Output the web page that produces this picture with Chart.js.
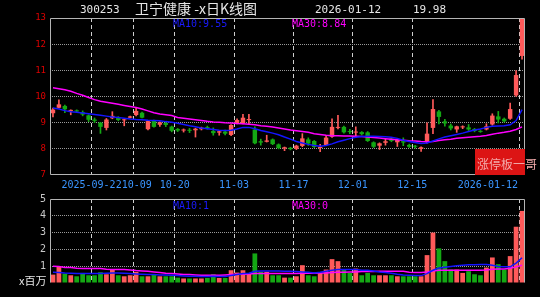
<!DOCTYPE html>
<html>
<head>
<meta charset="utf-8">
<title>300253 卫宁健康 日K线图</title>
<script src="https://cdn.jsdelivr.net/npm/chart.js@4.4.1/dist/chart.umd.min.js"></script>
<style>
    html, body { margin: 0; padding: 0; background: #000; }
    #wrap { position: relative; width: 540px; height: 297px; overflow: hidden; background: #000; }
    #wrap canvas { position: absolute; left: 0; top: 0; }
    .txt { position: absolute; white-space: nowrap; line-height: 1; }
    .mono { font-family: "DejaVu Sans Mono", monospace; }
    .cjk { font-family: "Noto Sans CJK SC", sans-serif; }
    #badge { position: absolute; left: 475px; top: 149px; width: 50px; height: 26px; background: #dc1414; }
</style>
</head>
<body>
<div id="wrap">
    <canvas id="kChart" width="540" height="297"></canvas>
    <canvas id="volChart" width="540" height="297"></canvas>

    <span class="txt mono" style="left:80px;top:4px;font-size:11px;color:#e6e6e6;">300253</span>
    <span class="txt cjk" style="left:135px;top:1px;font-size:14px;color:#e6e6e6;">卫宁健康 -x日K线图</span>
    <span class="txt mono" style="left:315px;top:4px;font-size:11px;color:#e6e6e6;">2026-01-12</span>
    <span class="txt mono" style="left:413px;top:4px;font-size:11px;color:#e6e6e6;">19.98</span>

    <span class="txt mono" style="left:173px;top:19px;font-size:10px;color:#1a1aff;">MA10:9.55</span>
    <span class="txt mono" style="left:292px;top:19px;font-size:10px;color:#ff00ff;">MA30:8.84</span>
    <span class="txt mono" style="left:173px;top:201px;font-size:10px;color:#1a1aff;">MA10:1</span>
    <span class="txt mono" style="left:292px;top:201px;font-size:10px;color:#ff00ff;">MA30:0</span>

    <span class="txt cjk" style="left:19px;top:275px;font-size:11px;color:#e6e6e6;">x百万</span>

    <div id="badge"></div>
    <span class="txt cjk" style="left:477px;top:158px;font-size:12px;color:#f2aaaa;">涨停板一哥</span>
</div>

<script>
// trading days shown on the chart
const dates = [
    '2025-09-11', '2025-09-12', '2025-09-15', '2025-09-16', '2025-09-17', '2025-09-18', '2025-09-19',
    '2025-09-22', '2025-09-23', '2025-09-24', '2025-09-25', '2025-09-26', '2025-09-29', '2025-09-30',
    '2025-10-09', '2025-10-10', '2025-10-13', '2025-10-14', '2025-10-15', '2025-10-16', '2025-10-17',
    '2025-10-20', '2025-10-21', '2025-10-22', '2025-10-23', '2025-10-24', '2025-10-27', '2025-10-28',
    '2025-10-29', '2025-10-30', '2025-10-31',
    '2025-11-03', '2025-11-04', '2025-11-05', '2025-11-06', '2025-11-07', '2025-11-10', '2025-11-11',
    '2025-11-12', '2025-11-13', '2025-11-14',
    '2025-11-17', '2025-11-18', '2025-11-19', '2025-11-20', '2025-11-21', '2025-11-24', '2025-11-25',
    '2025-11-26', '2025-11-27', '2025-11-28',
    '2025-12-01', '2025-12-02', '2025-12-03', '2025-12-04', '2025-12-05', '2025-12-08', '2025-12-09',
    '2025-12-10', '2025-12-11', '2025-12-12',
    '2025-12-15', '2025-12-16', '2025-12-17', '2025-12-18', '2025-12-19', '2025-12-22', '2025-12-23',
    '2025-12-24', '2025-12-25', '2025-12-26', '2025-12-29', '2025-12-30', '2025-12-31',
    '2026-01-05', '2026-01-06', '2026-01-07', '2026-01-08', '2026-01-09', '2026-01-12'
];

const opens = [
    9.36, 9.57, 9.64, 9.45, 9.47, 9.40, 9.28, 9.12, 9.00, 8.80,
    9.17, 9.21, 9.09, 9.19, 9.29, 9.38, 8.75, 9.09, 8.92, 8.99,
    8.85, 8.76, 8.70, 8.72, 8.71, 8.75, 8.83, 8.68, 8.62, 8.66,
    8.53, 8.98, 8.97, 9.10, 8.74, 8.29, 8.27, 8.36, 8.17, 8.01,
    8.04, 8.00, 8.11, 8.36, 8.30, 8.03, 8.15, 8.46, 8.80, 8.84,
    8.67, 8.62, 8.64, 8.63, 8.25, 8.12, 8.23, 8.39, 8.25, 8.29,
    8.15, 8.11, 8.00, 8.25, 8.80, 9.43, 9.05, 8.89, 8.74, 8.82,
    8.82, 8.76, 8.68, 8.74, 8.93, 9.24, 9.15, 9.15, 10.04, 11.55
];
const highs = [
    9.56, 9.87, 9.67, 9.49, 9.49, 9.45, 9.30, 9.18, 9.01, 9.16,
    9.42, 9.23, 9.13, 9.25, 9.55, 9.40, 9.08, 9.10, 9.03, 9.03,
    8.87, 8.78, 8.76, 8.78, 8.79, 8.83, 8.87, 8.80, 8.69, 8.72,
    8.93, 9.15, 9.32, 9.32, 8.84, 8.37, 8.52, 8.38, 8.19, 8.07,
    8.06, 8.14, 8.58, 8.42, 8.32, 8.17, 8.52, 9.15, 9.28, 8.87,
    8.75, 8.84, 8.66, 8.66, 8.27, 8.23, 8.38, 8.43, 8.37, 8.42,
    8.18, 8.13, 8.08, 8.99, 9.88, 9.47, 9.13, 8.95, 8.87, 8.88,
    8.93, 8.78, 8.70, 8.96, 9.34, 9.43, 9.18, 9.75, 10.99, 12.98
];
const lows = [
    9.22, 9.55, 9.38, 9.30, 9.40, 9.26, 9.04, 9.00, 8.59, 8.72,
    9.15, 9.07, 8.88, 9.18, 9.26, 9.18, 8.72, 8.83, 8.86, 8.85,
    8.65, 8.66, 8.64, 8.62, 8.45, 8.72, 8.75, 8.52, 8.52, 8.53,
    8.50, 8.95, 8.95, 8.94, 8.19, 8.14, 8.26, 8.16, 8.00, 7.93,
    7.96, 7.97, 8.08, 8.13, 8.05, 7.89, 8.12, 8.44, 8.76, 8.60,
    8.58, 8.45, 8.53, 8.28, 8.05, 7.97, 8.14, 8.27, 8.09, 8.12,
    8.05, 8.03, 7.90, 8.22, 8.58, 8.95, 8.87, 8.72, 8.63, 8.77,
    8.70, 8.65, 8.63, 8.72, 8.90, 8.99, 9.02, 9.12, 10.00, 11.43
];
const closes = [
    9.50, 9.70, 9.51, 9.48, 9.43, 9.31, 9.11, 9.07, 8.84, 9.12,
    9.26, 9.10, 9.11, 9.24, 9.45, 9.19, 9.06, 8.84, 9.01, 8.91,
    8.69, 8.70, 8.73, 8.69, 8.77, 8.81, 8.78, 8.60, 8.67, 8.58,
    8.91, 9.10, 9.19, 9.13, 8.21, 8.24, 8.32, 8.18, 8.03, 8.06,
    7.99, 8.12, 8.40, 8.20, 8.07, 8.06, 8.43, 8.84, 8.82, 8.63,
    8.64, 8.66, 8.56, 8.30, 8.08, 8.21, 8.29, 8.30, 8.35, 8.24,
    8.08, 8.08, 8.06, 8.58, 9.52, 9.22, 8.97, 8.78, 8.86, 8.85,
    8.74, 8.68, 8.65, 8.86, 9.27, 9.12, 9.05, 9.52, 10.82, 12.98
];

// moving averages as drawn on the price panel
const ma10 = [
    9.56, 9.52, 9.46, 9.42, 9.40, 9.37, 9.34, 9.31, 9.28, 9.25,
    9.22, 9.20, 9.17, 9.14, 9.12, 9.11, 9.09, 9.08, 9.07, 9.04,
    9.02, 8.98, 8.93, 8.88, 8.84, 8.80, 8.77, 8.74, 8.71, 8.70,
    8.71, 8.76, 8.82, 8.82, 8.77, 8.70, 8.65, 8.60, 8.54, 8.45,
    8.37, 8.28, 8.22, 8.17, 8.13, 8.10, 8.13, 8.19, 8.27, 8.33,
    8.39, 8.44, 8.47, 8.48, 8.48, 8.47, 8.46, 8.44, 8.40, 8.33,
    8.28, 8.24, 8.20, 8.22, 8.30, 8.38, 8.45, 8.50, 8.55, 8.60,
    8.66, 8.72, 8.76, 8.82, 8.86, 8.87, 8.88, 8.92, 9.08, 9.50
];
const ma30 = [
    10.33, 10.30, 10.26, 10.20, 10.12, 10.05, 9.96, 9.88, 9.82, 9.78,
    9.74, 9.70, 9.66, 9.62, 9.58, 9.52, 9.45, 9.38, 9.33, 9.30,
    9.27, 9.20, 9.17, 9.14, 9.11, 9.08, 9.05, 9.03, 9.02, 9.00,
    8.99, 8.97, 8.96, 8.94, 8.92, 8.88, 8.86, 8.83, 8.80, 8.76,
    8.72, 8.69, 8.66, 8.63, 8.58, 8.55, 8.52, 8.50, 8.50, 8.49,
    8.49, 8.48, 8.47, 8.45, 8.43, 8.41, 8.39, 8.37, 8.35, 8.33,
    8.31, 8.30, 8.28, 8.27, 8.28, 8.32, 8.35, 8.37, 8.40, 8.42,
    8.44, 8.46, 8.48, 8.51, 8.56, 8.60, 8.63, 8.67, 8.74, 8.84
];

// volume, millions of shares
const volumes = [
    0.50, 1.00, 0.56, 0.46, 0.40, 0.60, 0.46, 0.46, 0.64, 0.52,
    0.78, 0.46, 0.40, 0.46, 0.66, 0.40, 0.40, 0.50, 0.40, 0.40,
    0.40, 0.32, 0.27, 0.27, 0.27, 0.27, 0.30, 0.52, 0.30, 0.30,
    0.76, 0.62, 0.76, 0.56, 1.76, 0.66, 0.66, 0.46, 0.46, 0.32,
    0.32, 0.40, 1.06, 0.46, 0.40, 0.60, 0.80, 1.42, 1.30, 0.80,
    0.60, 0.86, 0.46, 0.60, 0.46, 0.46, 0.46, 0.46, 0.40, 0.40,
    0.40, 0.40, 0.40, 1.66, 3.00, 2.06, 1.30, 0.80, 0.80, 0.60,
    0.70, 0.52, 0.46, 0.92, 1.52, 1.12, 0.80, 1.60, 3.35, 4.29
];
const volMa10 = [
    0.64, 0.63, 0.60, 0.58, 0.56, 0.56, 0.56, 0.56, 0.56, 0.58,
    0.60, 0.60, 0.58, 0.56, 0.54, 0.52, 0.50, 0.50, 0.48, 0.48,
    0.46, 0.44, 0.42, 0.40, 0.40, 0.38, 0.38, 0.40, 0.38, 0.38,
    0.44, 0.50, 0.56, 0.58, 0.70, 0.72, 0.72, 0.72, 0.72, 0.70,
    0.70, 0.68, 0.66, 0.64, 0.60, 0.64, 0.70, 0.76, 0.80, 0.80,
    0.80, 0.80, 0.76, 0.76, 0.72, 0.66, 0.62, 0.58, 0.52, 0.48,
    0.46, 0.44, 0.44, 0.56, 0.76, 0.90, 0.94, 0.98, 1.02, 1.06,
    1.08, 1.08, 1.10, 1.10, 1.06, 0.98, 0.96, 0.96, 1.18, 1.50
];
const volMa30 = [
    1.00, 0.98, 0.92, 0.92, 0.88, 0.86, 0.86, 0.86, 0.86, 0.82,
    0.80, 0.80, 0.80, 0.78, 0.74, 0.72, 0.70, 0.66, 0.62, 0.58,
    0.56, 0.54, 0.50, 0.50, 0.48, 0.46, 0.46, 0.46, 0.46, 0.48,
    0.50, 0.52, 0.52, 0.54, 0.56, 0.56, 0.56, 0.56, 0.56, 0.56,
    0.56, 0.56, 0.58, 0.58, 0.58, 0.60, 0.60, 0.62, 0.64, 0.64,
    0.66, 0.66, 0.68, 0.68, 0.68, 0.70, 0.70, 0.70, 0.70, 0.70,
    0.64, 0.62, 0.62, 0.66, 0.72, 0.76, 0.76, 0.76, 0.76, 0.76,
    0.76, 0.76, 0.76, 0.78, 0.82, 0.84, 0.84, 0.88, 0.96, 1.06
];

// date axis labels
const tickDates = ['2025-09-22', '2025-10-09', '2025-10-20', '2025-11-03', '2025-11-17', '2025-12-01', '2025-12-15', '2026-01-12'];
const tickLabels = ['2025-09-22', '10-09', '10-20', '11-03', '11-17', '12-01', '12-15', '2026-01-12'];

document.addEventListener('DOMContentLoaded', () => {
    const UP = '#ff5a5a';
    const DOWN = '#14a814';
    const candleColors = closes.map((c, i) => (c >= opens[i] ? UP : DOWN));
    const markIdx = tickDates.map(d => dates.indexOf(d));

    // frame around the plot area (solid grey)
    const framePlugin = {
        id: 'frame',
        afterDatasetsDraw(chart, args, opts) {
            const { ctx, chartArea: a } = chart;
            const l = Math.round(a.left) + 0.5, r = Math.round(a.right) - 0.5;
            const t = Math.round(a.top) + 0.5, b = Math.round(a.bottom) - 0.5;
            ctx.save();
            ctx.strokeStyle = '#b4b4b4';
            ctx.lineWidth = 1;
            ctx.beginPath();
            ctx.moveTo(l, b); ctx.lineTo(l, t); ctx.lineTo(r, t); ctx.lineTo(r, b);
            if (opts.bottom) ctx.lineTo(l, b);
            ctx.stroke();
            ctx.restore();
        }
    };

    // date labels under the price panel, centred on the dashed lines
    const dateLabels = {
        id: 'dateLabels',
        afterDraw(chart) {
            const xs = chart.scales.x;
            const ctx = chart.ctx;
            const half = (xs.getPixelForValue(1) - xs.getPixelForValue(0)) / 2;
            ctx.save();
            ctx.font = '10px "DejaVu Sans Mono"';
            ctx.fillStyle = '#3a95ff';
            ctx.textBaseline = 'middle';
            let prevRight = 0;
            markIdx.forEach((idx, k) => {
                const w = ctx.measureText(tickLabels[k]).width;
                let left = xs.getPixelForValue(idx) - half - w / 2;
                if (left < prevRight) left = prevRight;
                if (left + w > chart.chartArea.right - 7) left = chart.chartArea.right - 7 - w;
                ctx.fillText(tickLabels[k], left, 185);
                prevRight = left + w;
            });
            ctx.restore();
        }
    };

    const xGrid = {
        offset: true,
        ticks: { display: false, autoSkip: false },
        grid: {
            offset: true,
            drawTicks: false,
            color: ctx => (markIdx.includes(ctx.index) ? '#cfcfcf' : 'transparent')
        },
        border: { display: false, dash: [4, 3] },
        afterFit: s => { s.height = 0; }
    };

    // price panel: candles are a wick bar and a body bar on the same category
    new Chart(document.getElementById('kChart'), {
        type: 'bar',
        data: {
            labels: dates,
            datasets: [
                {
                    label: 'wick',
                    data: lows.map((l, i) => [l, highs[i]]),
                    backgroundColor: candleColors,
                    barThickness: 1,
                    grouped: false,
                    order: 3
                },
                {
                    label: 'body',
                    data: opens.map((o, i) => [o, closes[i]]),
                    backgroundColor: candleColors,
                    barPercentage: 0.75,
                    categoryPercentage: 1,
                    minBarLength: 1,
                    grouped: false,
                    order: 2
                },
                { type: 'line', label: 'MA10', data: ma10, borderColor: '#1414ff', borderWidth: 1.5, pointRadius: 0, order: 1 },
                { type: 'line', label: 'MA30', data: ma30, borderColor: '#ff00ff', borderWidth: 1.5, pointRadius: 0, order: 1 }
            ]
        },
        options: {
            responsive: false,
            animation: false,
            devicePixelRatio: 1,
            layout: { padding: { left: 0, right: 15, top: 18, bottom: 122 } },
            plugins: { legend: { display: false }, tooltip: { enabled: false }, frame: { bottom: true } },
            scales: {
                x: xGrid,
                y: {
                    min: 7,
                    max: 13,
                    ticks: { stepSize: 1, color: '#dd0000', padding: 4, font: { family: 'DejaVu Sans Mono', size: 9 } },
                    grid: {
                        drawTicks: false,
                        color: ctx => (ctx.tick && ctx.tick.value > 7 && ctx.tick.value < 13 ? '#9a9a9a' : 'transparent')
                    },
                    border: { display: false, dash: [1, 1] },
                    afterFit: s => { s.width = 50; }
                }
            }
        },
        plugins: [framePlugin, dateLabels]
    });

    // volume panel
    new Chart(document.getElementById('volChart'), {
        type: 'bar',
        data: {
            labels: dates,
            datasets: [
                {
                    label: 'VOL',
                    data: volumes,
                    backgroundColor: candleColors,
                    barPercentage: 0.8,
                    categoryPercentage: 1,
                    order: 2
                },
                { type: 'line', label: 'MA10', data: volMa10, borderColor: '#1414ff', borderWidth: 1.5, pointRadius: 0, order: 1 },
                { type: 'line', label: 'MA30', data: volMa30, borderColor: '#ff00ff', borderWidth: 1.5, pointRadius: 0, order: 1 }
            ]
        },
        options: {
            responsive: false,
            animation: false,
            devicePixelRatio: 1,
            layout: { padding: { left: 0, right: 15, top: 199, bottom: 14 } },
            plugins: { legend: { display: false }, tooltip: { enabled: false }, frame: { bottom: false } },
            scales: {
                x: xGrid,
                y: {
                    min: 0,
                    max: 5,
                    ticks: {
                        stepSize: 1,
                        color: '#c8c8c8',
                        padding: 4,
                        font: { family: 'DejaVu Sans Mono', size: 10 },
                        callback: v => (v === 0 ? '' : v)
                    },
                    grid: {
                        drawTicks: false,
                        color: ctx => (ctx.tick && ctx.tick.value > 0 && ctx.tick.value < 5 ? '#9a9a9a' : 'transparent')
                    },
                    border: { display: false, dash: [1, 1] },
                    afterFit: s => { s.width = 50; }
                }
            }
        },
        plugins: [framePlugin]
    });
});
</script>
</body>
</html>
